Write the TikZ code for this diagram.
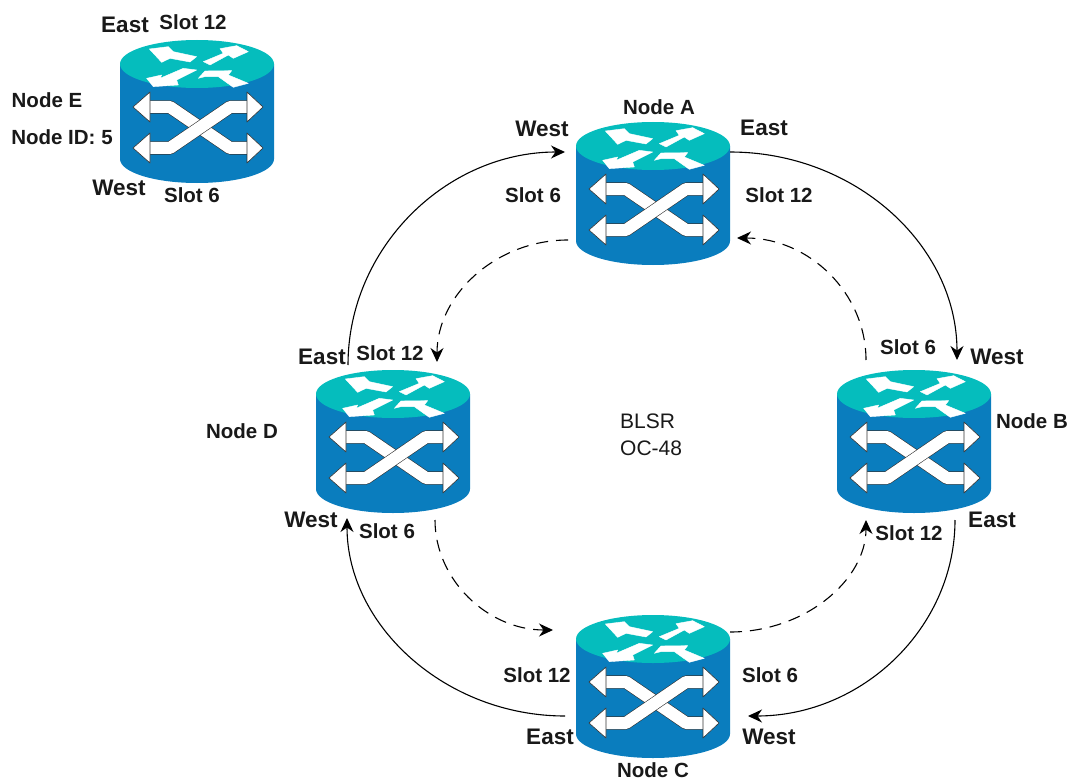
\documentclass[tikz,border=0pt]{standalone}
\usepackage{fontspec}
\setmainfont{Liberation Sans}
\usepackage{xcolor}
\usetikzlibrary{arrows.meta}
\definecolor{bodyblue}{HTML}{0A7DBE}
\definecolor{topteal}{HTML}{05BDBD}
\definecolor{arrowline}{HTML}{333333}

\begin{document}
\begin{tikzpicture}[x=1pt, y=-1pt,
  devbox/.style={rectangle, minimum width=155pt, minimum height=143pt, inner sep=0pt},
  whitearrow/.style={fill=white, draw=arrowline, line width=0.6pt, line join=round},
  whiteshaft/.style={draw=arrowline, line width=0.6pt, double=white, double distance=12pt, line join=round},
  toparrow/.style={fill=white, draw=white, line width=0.4pt, line join=round},
  slot/.style={font=\fontsize{20.5}{24}\selectfont\bfseries, text=black!90, inner sep=0pt},
  port/.style={font=\fontsize{22.5}{26}\selectfont\bfseries, text=black!90, inner sep=0pt},
  ring/.style={font=\fontsize{21}{24}\selectfont, text=black!90, inner sep=0pt, anchor=west},
  solidlink/.style={line width=1.1pt, -{Stealth[length=14pt, width=13pt]}},
  dashlink/.style={line width=1.1pt, dash pattern=on 12pt off 8pt, -{Stealth[length=14pt, width=13pt]}},
  router/.pic={
    \fill[bodyblue] (-77,-47) -- (-77,48) arc[start angle=180, end angle=0, x radius=77, y radius=24] -- (77,-47) -- cycle;
    \fill[topteal] (0,-47) ellipse [x radius=77, y radius=24];
    \begin{scope}[shift={(-107,-111)}, scale=0.3333]
      \filldraw[toparrow] (178,147) -- (235,140) -- (250,155) -- (320,170) -- (300,186) -- (240,175) -- (215,187) -- cycle;
      \filldraw[toparrow] (340,185) -- (400,160) -- (390,146) -- (440,137) -- (475,155) -- (430,175) -- (415,165) -- (360,195) -- cycle;
      \filldraw[toparrow] (170,235) -- (215,225) -- (210,235) -- (280,205) -- (320,210) -- (260,240) -- (265,255) -- (190,260) -- cycle;
      \filldraw[toparrow] (325,235) -- (345,213) -- (425,212) -- (415,225) -- (475,250) -- (430,262) -- (385,230) -- (345,230) -- cycle;
    \end{scope}
    \foreach \ya/\yb in {-4/37, 37/-4} {
      \draw[whiteshaft] (-47,\ya) -- (-27,\ya) -- (33,\yb) -- (50,\yb);
      \filldraw[whitearrow] (-64,\ya) -- (-47,\ya-15) -- (-47,\ya+15) -- cycle;
      \filldraw[whitearrow] (66,\yb) -- (50,\yb-15) -- (50,\yb+15) -- cycle;
    }
  }]
  \useasboundingbox (0,0) rectangle (1068,781);

  \foreach \name/\xpos/\ypos in {E/197/111, A/653/193, D/393/441, B/914/441, C/653/686} {
    \node[devbox] (\name) at (\xpos,\ypos) {};
    \pic at (\name) {router};
  }

  % working ring
  \draw[solidlink] ([shift={(-45,-76)}]D.center) .. controls +(0,-117) and +(-119,0) .. ([shift={(-88,-41)}]A.center);
  \draw[solidlink] ([shift={(77,-41)}]A.center) .. controls +(125,0) and +(0,-115) .. ([shift={(43,-81)}]B.center);
  \draw[solidlink] ([shift={(41,79)}]B.center) .. controls +(0,108) and +(114,0) .. ([shift={(95,30)}]C.center);
  \draw[solidlink] ([shift={(-88,30)}]C.center) .. controls +(-119,0) and +(0,108) .. ([shift={(-46,77)}]D.center);

  % protect ring
  \draw[dashlink] ([shift={(-85,47)}]A.center) .. controls +(-72,0) and +(0,-67) .. ([shift={(44,-79)}]D.center);
  \draw[dashlink] ([shift={(42,79)}]D.center) .. controls +(0,60) and +(-65,0) .. ([shift={(-100,-56)}]C.center);
  \draw[dashlink] ([shift={(77,-54)}]C.center) .. controls +(75,0) and +(0,60) .. ([shift={(-48,79)}]B.center);
  \draw[dashlink] ([shift={(-48,-81)}]B.center) .. controls +(0,-67) and +(72,0) .. ([shift={(84,45)}]A.center);

  % node E
  \node[port] (Eeast) at (125,25) {East};
  \node[slot] (Eslottop) at (193,22) {Slot 12};
  \node[slot] (Ename) at (47,100) {Node E};
  \node[slot] (Eid) at (62,137) {Node ID: 5};
  \node[port] (Ewest) at (119,188) {West};
  \node[slot] (Eslotlow) at (192,195) {Slot 6};

  % node A
  \node[slot] (Aname) at (659,107) {Node A};
  \node[port] (Awest) at (542,129) {West};
  \node[port] (Aeast) at (764,128) {East};
  \node[slot] (Aslotl) at (533,195) {Slot 6};
  \node[slot] (Aslotr) at (779,195) {Slot 12};

  % node D
  \node[port] (Deast) at (322,357) {East};
  \node[slot] (Dslottop) at (390,353) {Slot 12};
  \node[slot] (Dname) at (242,431) {Node D};
  \node[port] (Dwest) at (311,520) {West};
  \node[slot] (Dslotlow) at (387,531) {Slot 6};

  % node B
  \node[slot] (Bslottop) at (908,347) {Slot 6};
  \node[port] (Bwest) at (997,357) {West};
  \node[slot] (Bname) at (1032,421) {Node B};
  \node[port] (Beast) at (992,520) {East};
  \node[slot] (Bslotlow) at (909,533) {Slot 12};

  % node C
  \node[slot] (Cslotl) at (537,675) {Slot 12};
  \node[slot] (Cslotr) at (770,675) {Slot 6};
  \node[port] (Ceast) at (550,737) {East};
  \node[port] (Cwest) at (769,737) {West};
  \node[slot] (Cname) at (653,770) {Node C};

  \node[ring] (bl) at (620,421) {BLSR};
  \node[ring] (oc) at (620,448) {OC-48};
\end{tikzpicture}
\end{document}
